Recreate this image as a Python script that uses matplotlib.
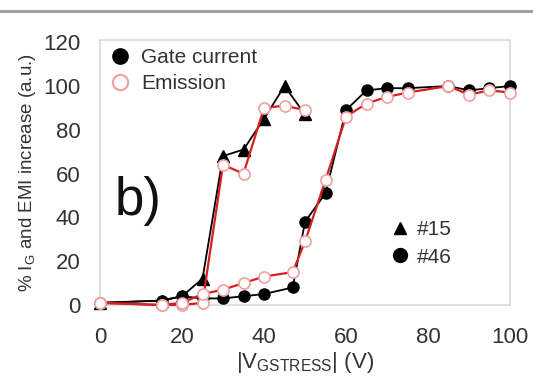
import matplotlib
matplotlib.use("Agg")
import matplotlib.pyplot as plt
from matplotlib.lines import Line2D

plt.rcParams['font.family'] = ['Liberation Sans', 'DejaVu Sans']
plt.rcParams['mathtext.fontset'] = 'custom'
plt.rcParams['mathtext.rm'] = 'Liberation Sans'
plt.rcParams['mathtext.it'] = 'Liberation Sans'

# Data
x15 = [0, 15, 20, 25, 30, 35, 40, 45, 50]
gate15 = [1, 2, 4, 12, 68, 71, 85, 100, 87]
emi15 = [1, 0, 0, 1, 64, 60, 90, 91, 89]

x46 = [0, 15, 20, 25, 30, 35, 40, 47, 50, 55, 60, 65, 70, 75, 85, 90, 95, 100]
gate46 = [1, 2, 4, 3, 3, 4, 5, 8, 38, 51, 89, 98, 99, 99, 100, 98, 99, 100]
emi46 = [1, 0, 1, 5, 7, 10, 13, 15, 29, 57, 86, 92, 95, 97, 100, 96, 98, 97]

xticks = [0, 20, 40, 60, 80, 100]
yticks = [0, 20, 40, 60, 80, 100, 120]

fig = plt.figure(figsize=(5.33, 3.9), dpi=100)
ax = fig.add_axes([100/533, 1-305/390, 410/533, 265/390])

red = '#d42020'
pink = '#f0a0a0'
ax.plot(x15, gate15, color='black', lw=1.3, marker='^', ms=8.5, mfc='black', mec='black', clip_on=False, zorder=3)
ax.plot(x46, gate46, color='black', lw=1.3, marker='o', ms=8, mfc='black', mec='black', clip_on=False, zorder=3)
ax.plot(x15, emi15, color=red, lw=1.6, marker='o', ms=8, mfc='white', mec=pink, mew=1.2, clip_on=False, zorder=4)
ax.plot(x46, emi46, color=red, lw=1.6, marker='o', ms=8, mfc='white', mec=pink, mew=1.2, clip_on=False, zorder=4)

ax.set_xlim(0, 100)
ax.set_ylim(0, 121)
ax.set_xticks(xticks)
ax.set_yticks(yticks)
ax.tick_params(axis='x', length=0, labelsize=16, colors='#333333', pad=16)
ax.tick_params(axis='y', length=0, labelsize=16, colors='#333333', pad=14)
for s in ax.spines.values():
    s.set_color('#d9d9d9')
    s.set_linewidth(1.2)

ax.set_xlabel(r'|V$_{\mathrm{GSTRESS}}$| (V)', fontsize=16, color='#333333', labelpad=1)
ax.set_ylabel(r'% I$_{\mathrm{G}}$ and EMI increase (a.u.)', fontsize=13.5, color='#333333', labelpad=4)

ax.text(3.5, 36, 'b)', fontsize=38, color='#111111', ha='left', va='bottom')

h1 = [Line2D([], [], ls='none', marker='o', ms=11, mfc='black', mec='black'),
      Line2D([], [], ls='none', marker='o', ms=11, mfc='white', mec=pink, mew=1.5)]
leg1 = ax.legend(h1, ['Gate current', 'Emission'], loc='upper left', bbox_to_anchor=(-0.012, 1.025),
                 frameon=False, fontsize=15, handlelength=1.0, handletextpad=0.5, labelspacing=0.35,
                 borderaxespad=0.3)
for t in leg1.get_texts():
    t.set_color('#333333')
ax.add_artist(leg1)

h2 = [Line2D([], [], ls='none', marker='^', ms=9, mfc='black', mec='black'),
      Line2D([], [], ls='none', marker='o', ms=10, mfc='black', mec='black')]
leg2 = ax.legend(h2, ['#15', '#46'], loc='upper left', bbox_to_anchor=(0.665, 0.39),
                 frameon=False, fontsize=15, handlelength=0.8, handletextpad=0.4, labelspacing=0.4)
for t in leg2.get_texts():
    t.set_color('#333333')

fig.add_artist(Line2D([0, 1], [1-11/390, 1-11/390], color='#999999', lw=2, transform=fig.transFigure))

fig.savefig('out.png', dpi=100)
